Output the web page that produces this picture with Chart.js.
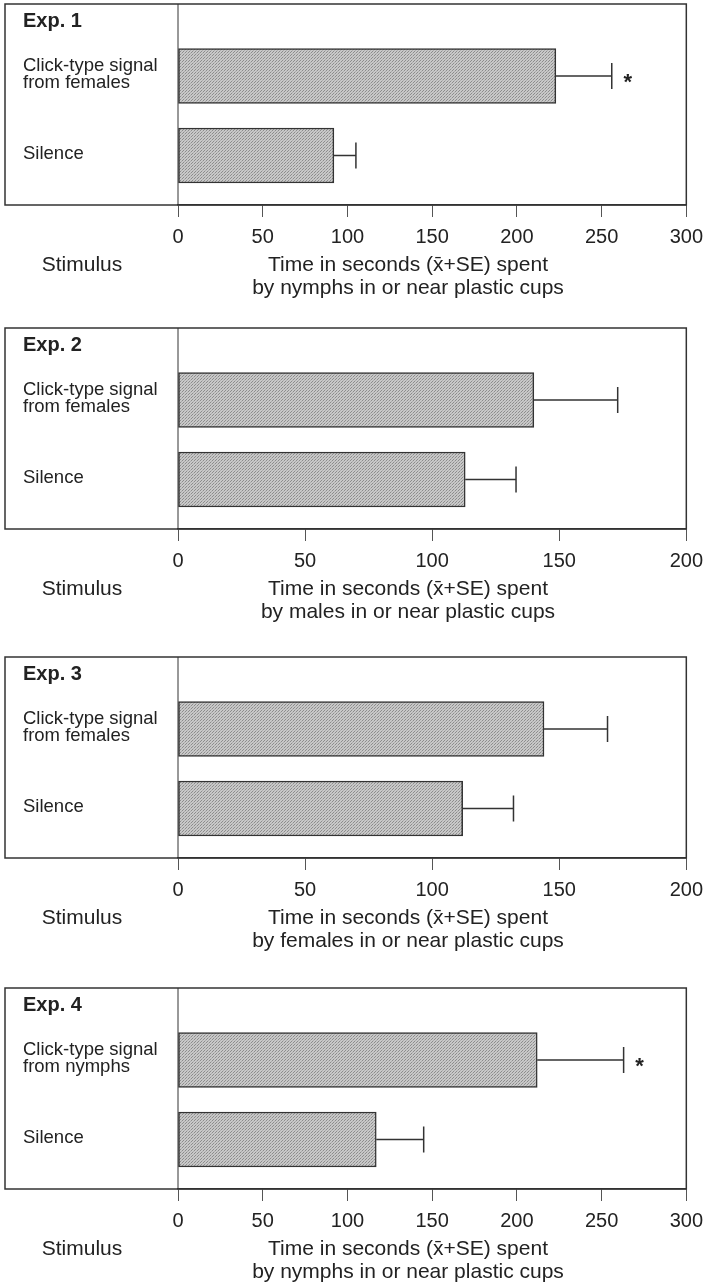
<!DOCTYPE html>
<html lang="en">
<head>
    <meta charset="UTF-8">
    <title>Click-type signal experiments</title>
    <script src="https://cdn.jsdelivr.net/npm/chart.js"></script>
    <style>
        html, body { margin: 0; padding: 0; background: #fff; overflow: hidden; }
        .page { position: relative; width: 711px; height: 1283px; }
        .panel { position: absolute; left: 0; width: 711px; height: 310px; }
    </style>
</head>
<body>
    <div class="page" id="page"></div>
    <script>
        // data
        const expTitles = ['Exp. 1', 'Exp. 2', 'Exp. 3', 'Exp. 4'];
        const signalLabels = [
            ['Click-type signal', 'from females'],
            ['Click-type signal', 'from females'],
            ['Click-type signal', 'from females'],
            ['Click-type signal', 'from nymphs']
        ];
        const silenceLabels = [['Silence'], ['Silence'], ['Silence'], ['Silence']];
        const signalMeans = [223, 140, 144, 212];
        const signalSE = [33, 33, 25, 51];
        const silenceMeans = [92, 113, 112, 117];
        const silenceSE = [13, 20, 20, 28];
        const significant = [true, false, false, true];
        const axisMax = [300, 200, 200, 300];
        const tickStep = 50;
        const subjects = ['nymphs', 'males', 'females', 'nymphs'];

        // page layout
        const boxTops = [4, 328, 657, 988];
        const BOX_LEFT = 5, AXIS_X = 178, BOX_RIGHT = 690, BOX_H = 201;
        const FONT = '"Liberation Sans", Arial, Helvetica, sans-serif';
        const INK = '#222';

        function makeStipple() {
            const c = document.createElement('canvas');
            c.width = 3; c.height = 3;
            const g = c.getContext('2d');
            g.fillStyle = '#c8c8c8';
            g.fillRect(0, 0, 3, 3);
            g.fillStyle = '#8c8c8c';
            g.fillRect(0, 0, 1, 1);
            g.fillRect(2, 1, 1, 1);
            g.fillStyle = '#ababab';
            g.fillRect(1, 2, 1, 1);
            return g.createPattern(c, 'repeat');
        }
        const stipple = makeStipple();

        const decor = {
            id: 'decor',
            afterDatasetsDraw(chart, args, opts) {
                const i = opts.index;
                const { ctx, scales: { x, y } } = chart;
                const means = [signalMeans[i], silenceMeans[i]];
                const ses = [signalSE[i], silenceSE[i]];
                ctx.save();
                ctx.strokeStyle = '#333';
                ctx.lineWidth = 1.5;
                means.forEach((m, j) => {
                    const yc = y.getPixelForValue(j);
                    const x0 = x.getPixelForValue(m);
                    const x1 = x.getPixelForValue(m + ses[j]);
                    ctx.beginPath();
                    ctx.moveTo(x0, yc); ctx.lineTo(x1, yc);
                    ctx.moveTo(x1, yc - 13); ctx.lineTo(x1, yc + 13);
                    ctx.stroke();
                    if (j === 0 && significant[i]) {
                        ctx.fillStyle = INK;
                        ctx.font = 'bold 22px ' + FONT;
                        ctx.textAlign = 'center';
                        ctx.textBaseline = 'middle';
                        ctx.fillText('*', x1 + 16, yc + 7);
                    }
                });
                ctx.restore();
            },
            afterDraw(chart, args, opts) {
                const i = opts.index;
                const { ctx, chartArea: a, scales: { y } } = chart;
                ctx.save();
                // frame and stimulus column divider
                ctx.strokeStyle = '#333';
                ctx.lineWidth = 1.5;
                ctx.strokeRect(BOX_LEFT, a.top, a.right - BOX_LEFT, a.bottom - a.top);
                ctx.lineWidth = 1;
                ctx.beginPath();
                ctx.moveTo(a.left, a.top); ctx.lineTo(a.left, a.bottom);
                ctx.stroke();

                ctx.fillStyle = INK;
                ctx.textAlign = 'left';
                ctx.textBaseline = 'middle';
                ctx.font = 'bold 20px ' + FONT;
                ctx.fillText(expTitles[i], 23, a.top + 17);

                ctx.font = '18.5px ' + FONT;
                [signalLabels[i], silenceLabels[i]].forEach((lines, j) => {
                    const yc = y.getPixelForValue(j) - 2;
                    const lh = 17;
                    lines.forEach((t, k) => {
                        ctx.fillText(t, 23, yc + (k - (lines.length - 1) / 2) * lh);
                    });
                });

                ctx.font = '21px ' + FONT;
                ctx.textAlign = 'center';
                ctx.fillText('Stimulus', 82, a.bottom + 60);
                ctx.fillText('Time in seconds (x\u0304+SE) spent', 408, a.bottom + 60);
                ctx.fillText('by ' + subjects[i] + ' in or near plastic cups', 408, a.bottom + 83);
                ctx.restore();
            }
        };

        const page = document.getElementById('page');
        expTitles.forEach((title, i) => {
            const div = document.createElement('div');
            div.className = 'panel';
            div.style.top = (boxTops[i] - 10) + 'px';
            const canvas = document.createElement('canvas');
            div.appendChild(canvas);
            page.appendChild(div);

            const yMin = -72 / 79.5;
            const yMax = yMin + BOX_H / 79.5;

            new Chart(canvas, {
                type: 'bar',
                data: {
                    datasets: [{
                        label: title,
                        data: [
                            { x: signalMeans[i], y: 0 },
                            { x: silenceMeans[i], y: 1 }
                        ],
                        backgroundColor: stipple,
                        borderColor: '#333',
                        borderWidth: 1.5,
                        borderSkipped: false,
                        barThickness: 55
                    }]
                },
                options: {
                    indexAxis: 'y',
                    responsive: true,
                    maintainAspectRatio: false,
                    animation: false,
                    layout: {
                        padding: { left: AXIS_X, right: 711 - BOX_RIGHT, top: 10, bottom: 9 }
                    },
                    scales: {
                        x: {
                            type: 'linear',
                            min: 0,
                            max: axisMax[i],
                            afterFit(scale) { scale.height = 90; },
                            ticks: {
                                stepSize: tickStep,
                                color: INK,
                                padding: 8,
                                maxRotation: 0,
                                font: { family: FONT, size: 20 }
                            },
                            grid: {
                                drawOnChartArea: false,
                                tickLength: 12,
                                color: '#555',
                                lineWidth: 1
                            },
                            border: { display: true, color: '#333', width: 1.5 }
                        },
                        y: {
                            type: 'linear',
                            reverse: true,
                            offset: false,
                            min: yMin,
                            max: yMax,
                            display: false
                        }
                    },
                    plugins: {
                        legend: { display: false },
                        tooltip: { enabled: false },
                        decor: { index: i }
                    }
                },
                plugins: [decor]
            });
        });
    </script>
</body>
</html>
